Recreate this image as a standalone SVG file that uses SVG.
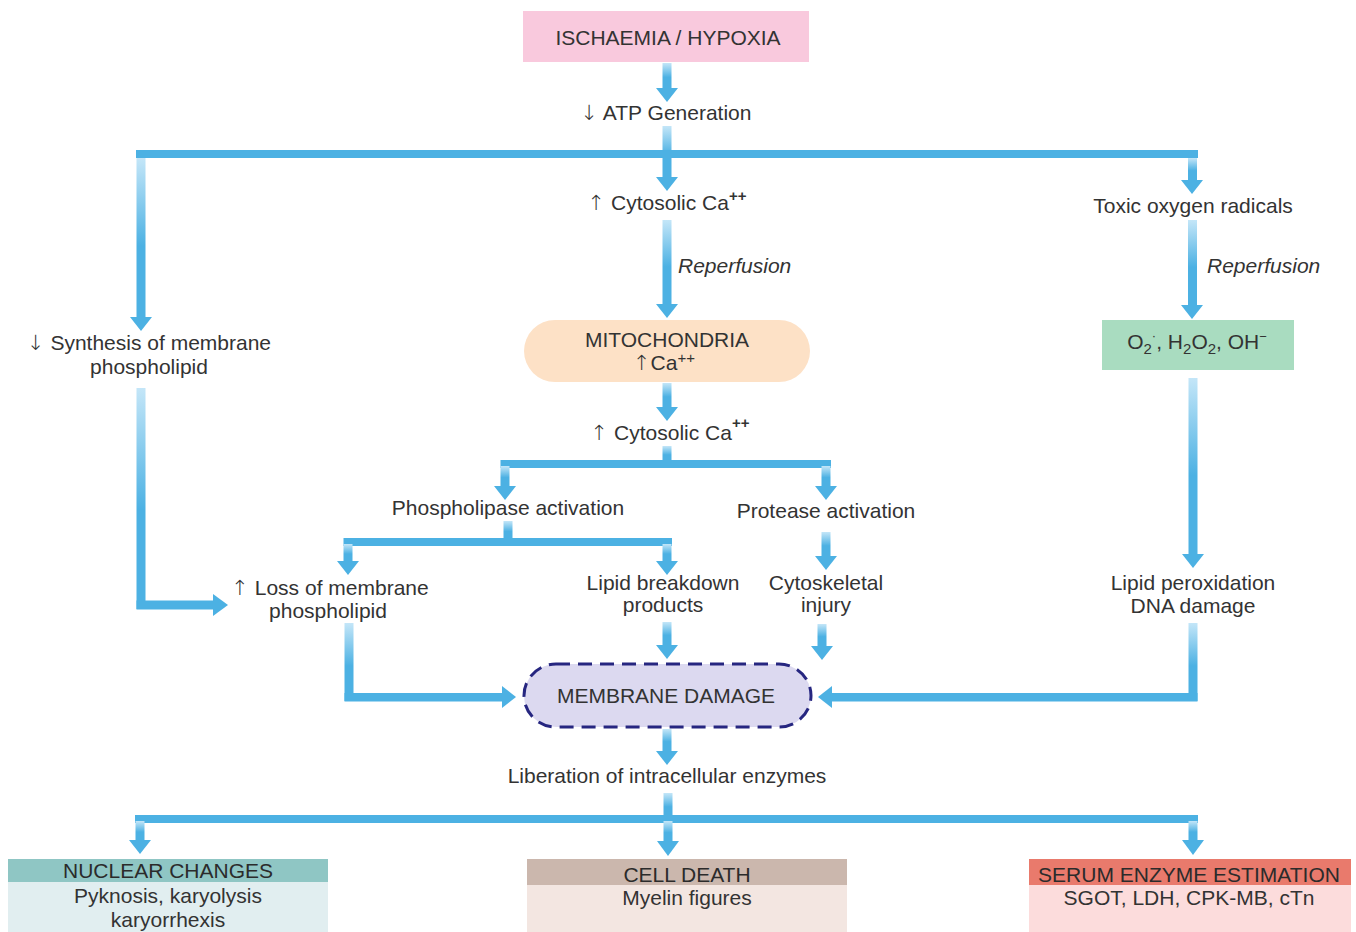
<svg xmlns="http://www.w3.org/2000/svg" width="1356" height="932" viewBox="0 0 1356 932">
<defs>
<linearGradient id="gv" x1="0" y1="0" x2="0" y2="1">
<stop offset="0" stop-color="#c4e6f8"/>
<stop offset="0.55" stop-color="#4cb1e3"/>
<stop offset="1" stop-color="#4cb1e3"/>
</linearGradient>
<style>
text{font-family:"Liberation Sans",Arial,sans-serif;font-size:21px;fill:#333;}
.c{text-anchor:middle;}
.it{font-style:italic;}
.s{fill:#4cb1e3;}
.g{fill:url(#gv);}
.hd{fill:#2b2b2b;}
.ar{font-family:"DejaVu Sans",sans-serif;font-weight:200;}
</style>
</defs>
<rect width="1356" height="932" fill="#fff"/>

<g id="connectors">
<!-- ischaemia -> ATP -->
<rect class="g" x="662.5" y="63" width="9" height="26"/>
<polygon class="s" points="656,88 678,88 667,102"/>
<!-- ATP -> cytosolic -->
<rect class="g" x="662.5" y="126" width="9" height="52"/>
<polygon class="s" points="656,177 678,177 667,191"/>
<rect class="s" x="136" y="150" width="1062" height="8"/>
<!-- left branch -->
<rect class="g" x="136.5" y="158" width="9" height="160"/>
<polygon class="s" points="130,317 152,317 141,331"/>
<!-- right branch -->
<rect class="g" x="1188" y="158" width="9" height="23"/>
<polygon class="s" points="1181,180 1203,180 1192,194"/>
<!-- cytosolic -> mito -->
<rect class="g" x="662.5" y="220" width="9" height="85"/>
<polygon class="s" points="656,304 678,304 667,318"/>
<!-- toxic -> green -->
<rect class="g" x="1188" y="220" width="9" height="86"/>
<polygon class="s" points="1181,305 1203,305 1192,319"/>
<!-- mito -> cytosolic 2 -->
<rect class="g" x="662.5" y="383" width="9" height="25"/>
<polygon class="s" points="656,407 678,407 667,421"/>
<!-- cytosolic 2 split -->
<rect class="g" x="662.5" y="446" width="9" height="16"/>
<rect class="s" x="500.5" y="460" width="330.5" height="8"/>
<rect class="g" x="500.5" y="466" width="9" height="21"/>
<polygon class="s" points="494,486 516,486 505,500"/>
<rect class="g" x="821.5" y="466" width="9" height="21"/>
<polygon class="s" points="815,486 837,486 826,500"/>
<!-- phospholipase split -->
<rect class="g" x="503.5" y="521" width="9" height="19"/>
<rect class="s" x="343.5" y="538" width="328.5" height="8"/>
<rect class="g" x="343.5" y="544" width="9" height="18"/>
<polygon class="s" points="337,561 359,561 348,575"/>
<rect class="g" x="662.5" y="544" width="9" height="18"/>
<polygon class="s" points="656,561 678,561 667,575"/>
<!-- protease -> cytoskeletal -->
<rect class="g" x="821.5" y="532" width="9" height="25"/>
<polygon class="s" points="815,556 837,556 826,570"/>
<!-- green -> lipid peroxidation -->
<rect class="g" x="1188.5" y="378" width="9" height="177"/>
<polygon class="s" points="1182,554 1204,554 1193,568"/>
<!-- synthesis -> loss -->
<rect class="g" x="136.5" y="388" width="9" height="221"/>
<rect class="s" x="136.5" y="600.5" width="78" height="9"/>
<polygon class="s" points="213,594 213,616 228,605"/>
<!-- loss -> membrane -->
<rect class="g" x="344.5" y="623" width="9" height="78"/>
<rect class="s" x="344.5" y="693" width="159" height="8.5"/>
<polygon class="s" points="502,686 502,708 516,697"/>
<!-- lipid breakdown -> membrane -->
<rect class="g" x="662.5" y="622" width="9" height="24"/>
<polygon class="s" points="656,645 678,645 667,659"/>
<!-- cytoskeletal -> membrane -->
<rect class="g" x="817.5" y="624" width="9" height="23"/>
<polygon class="s" points="811,646 833,646 822,660"/>
<!-- lipid peroxidation -> membrane -->
<rect class="g" x="1188.5" y="623" width="9" height="78"/>
<rect class="s" x="831" y="693" width="366.5" height="8.5"/>
<polygon class="s" points="832,686 832,708 818,697"/>
<!-- membrane -> liberation -->
<rect class="g" x="662.5" y="729" width="9" height="23"/>
<polygon class="s" points="656,751 678,751 667,765"/>
<!-- liberation split -->
<rect class="g" x="663.5" y="793" width="9" height="25"/>
<rect class="s" x="135" y="815" width="1063" height="8"/>
<rect class="g" x="135.5" y="821" width="9" height="20"/>
<polygon class="s" points="129,840 151,840 140,854"/>
<rect class="g" x="663.5" y="821" width="9" height="21"/>
<polygon class="s" points="657,841 679,841 668,856"/>
<rect class="g" x="1188.5" y="821" width="9" height="20"/>
<polygon class="s" points="1182,840 1204,840 1193,855"/>
</g>

<g id="ischaemia">
<rect x="523" y="11" width="286" height="51" fill="#f9c9dd"/>
<text class="c" x="668" y="45">ISCHAEMIA / HYPOXIA</text>
</g>
<g id="atp"><text class="c" x="666" y="120"><tspan class="ar">↓</tspan> ATP Generation</text></g>
<g id="cytosolic1"><text class="c" x="667" y="210"><tspan class="ar">↑</tspan> Cytosolic Ca<tspan dy="-9" font-size="15" font-weight="bold">++</tspan></text></g>
<g id="reperfusion1"><text class="it" x="678" y="273">Reperfusion</text></g>
<g id="toxic"><text class="c" x="1193" y="213">Toxic oxygen radicals</text></g>
<g id="reperfusion2"><text class="it" x="1207" y="273">Reperfusion</text></g>
<g id="synthesis">
<text class="c" x="149" y="350"><tspan class="ar">↓</tspan> Synthesis of membrane</text>
<text class="c" x="149" y="374">phospholipid</text>
</g>
<g id="mitochondria">
<rect x="524" y="320" width="286" height="62" rx="31" fill="#fde1c6"/>
<text class="c" x="667" y="347">MITOCHONDRIA</text>
<text class="c" x="664" y="370"><tspan class="ar">↑</tspan>Ca<tspan dy="-7" font-size="15">++</tspan></text>
</g>
<g id="radicals">
<rect x="1102" y="320" width="192" height="50" fill="#a9dcc0"/>
<text class="c" x="1197" y="349">O<tspan dy="5" font-size="15">2</tspan><tspan dy="-14" font-size="13">·</tspan><tspan dy="9">, H</tspan><tspan dy="5" font-size="15">2</tspan><tspan dy="-5">O</tspan><tspan dy="5" font-size="15">2</tspan><tspan dy="-5">, OH</tspan><tspan dy="-8" font-size="13">−</tspan></text>
</g>
<g id="cytosolic2"><text class="c" x="670" y="440"><tspan class="ar">↑</tspan> Cytosolic Ca<tspan dy="-12" font-size="15" font-weight="bold">++</tspan></text></g>
<g id="phospholipase"><text class="c" x="508" y="515">Phospholipase activation</text></g>
<g id="protease"><text class="c" x="826" y="518">Protease activation</text></g>
<g id="loss">
<text class="c" x="330" y="595"><tspan class="ar">↑</tspan> Loss of membrane</text>
<text class="c" x="328" y="618">phospholipid</text>
</g>
<g id="lipidbreakdown">
<text class="c" x="663" y="590">Lipid breakdown</text>
<text class="c" x="663" y="612">products</text>
</g>
<g id="cytoskeletal">
<text class="c" x="826" y="590">Cytoskeletal</text>
<text class="c" x="826" y="612">injury</text>
</g>
<g id="peroxidation">
<text class="c" x="1193" y="590">Lipid peroxidation</text>
<text class="c" x="1193" y="613">DNA damage</text>
</g>
<g id="membrane">
<rect x="524" y="664" width="287" height="63" rx="32" fill="#dcd9f0" stroke="#262680" stroke-width="3" stroke-dasharray="14 8"/>
<text class="c" x="666" y="703">MEMBRANE DAMAGE</text>
</g>
<g id="liberation"><text class="c" x="667" y="783">Liberation of intracellular enzymes</text></g>
<g id="nuclear">
<rect x="8" y="859" width="320" height="23" fill="#8fc6c4"/>
<rect x="8" y="882" width="320" height="50" fill="#e1eef0"/>
<text class="c hd" x="168" y="878">NUCLEAR CHANGES</text>
<text class="c" x="168" y="903">Pyknosis, karyolysis</text>
<text class="c" x="168" y="927">karyorrhexis</text>
</g>
<g id="celldeath">
<rect x="527" y="859" width="320" height="26" fill="#cbb7ad"/>
<rect x="527" y="885" width="320" height="47" fill="#f3e6e1"/>
<text class="c hd" x="687" y="882">CELL DEATH</text>
<text class="c" x="687" y="905">Myelin figures</text>
</g>
<g id="serum">
<rect x="1029" y="859" width="322" height="26" fill="#e97a6c"/>
<rect x="1029" y="885" width="322" height="47" fill="#fcdcdc"/>
<text class="c hd" x="1189" y="882">SERUM ENZYME ESTIMATION</text>
<text class="c" x="1189" y="905">SGOT, LDH, CPK-MB, cTn</text>
</g>
</svg>
